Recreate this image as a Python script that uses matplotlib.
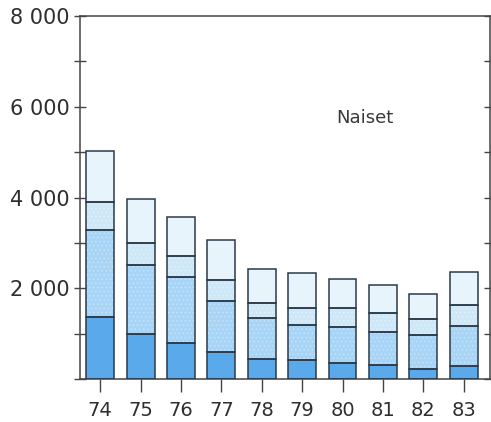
import matplotlib
matplotlib.use("Agg")
import matplotlib.pyplot as plt
import numpy as np

years = ["74", "75", "76", "77", "78", "79", "80", "81", "82", "83"]
seg1 = [1370, 990, 785, 590, 450, 410, 350, 310, 225, 285]
seg2 = [1915, 1520, 1455, 1130, 890, 790, 805, 735, 740, 880]
seg3 = [610, 480, 475, 455, 340, 375, 400, 410, 365, 470]
seg4 = [1130, 975, 860, 890, 755, 765, 645, 620, 535, 720]
yticks = [0, 2000, 4000, 6000, 8000]
ytick_labels = ["", "2 000", "4 000", "6 000", "8 000"]
panel_title = "Naiset"

colors = ["#5aa9ea", "#a8d4f5", "#cfe8f8", "#e8f4fb"]
hatches = [None, "....", "....", None]
segs = [seg1, seg2, seg3, seg4]

plt.rcParams['hatch.linewidth'] = 0.5

fig = plt.figure(figsize=(4.91, 4.22), dpi=100)
ax = fig.add_axes([80/491, 1 - 379/422, 410/491, 363/422])

x = np.arange(len(years))
bottom = np.zeros(len(years))
for s, c, h in zip(segs, colors, hatches):
    s = np.array(s, dtype=float)
    ax.bar(x, s, bottom=bottom, width=0.69, color=c, edgecolor="none", zorder=2)
    if h:
        ax.bar(x, s, bottom=bottom, width=0.69, color="none", edgecolor="white",
               hatch=h, linewidth=0, alpha=0.35, zorder=3)
    ax.bar(x, s, bottom=bottom, width=0.69, color="none", edgecolor="#2a3a4a",
           linewidth=1.1, zorder=4)
    bottom += s

ax.set_xlim(-0.5, 9.65)
ax.set_ylim(0, 8000)
ax.set_xticks(x)
ax.set_xticklabels(years, fontsize=14, color="#2e2e2e")
ax.set_yticks(yticks)
ax.set_yticklabels(ytick_labels, fontsize=15, color="#2e2e2e")
ax.set_yticks(np.arange(1000, 8000, 2000), minor=True)

ax.tick_params(axis="x", direction="out", length=9, width=1, color="#444444", pad=7)
ax.tick_params(axis="y", which="both", direction="inout", length=9, width=1,
               color="#444444", pad=3, right=True)
for sp in ax.spines.values():
    sp.set_color("#444444")
    sp.set_linewidth(1.1)

ax.text(0.625, 0.72, panel_title, transform=ax.transAxes, fontsize=13,
        color="#3a3a3a", ha="left", va="center")

fig.savefig("out.png", dpi=100)
